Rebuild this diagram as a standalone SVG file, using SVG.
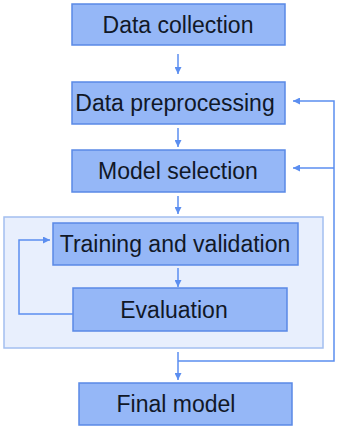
<svg xmlns="http://www.w3.org/2000/svg" width="341" height="431" viewBox="0 0 341 431">
<defs>
<style>
.box{fill:#95b7f7;stroke:#5a89e6;stroke-width:1.5}
.grp{fill:#e8effd;stroke:#a3bff0;stroke-width:1.5}
.lbl{font-family:"Liberation Sans",Arial,sans-serif;font-size:23px;fill:#111827;text-anchor:middle}
.edge{fill:none;stroke:#5b8ef0;stroke-width:1.5}
</style>
<marker id="ah" viewBox="0 0 10 10" refX="10" refY="5" markerWidth="7" markerHeight="7" markerUnits="userSpaceOnUse" orient="auto">
<path d="M0,0 L10,5 L0,10 z" fill="#5b8ef0"/>
</marker>
</defs>
<rect id="container" class="grp" x="4" y="217" width="319" height="131"/>
<g id="n1"><rect class="box" x="72" y="4" width="213" height="41"/><text class="lbl" x="178" y="33">Data collection</text></g>
<g id="n2"><rect class="box" x="72" y="82" width="213" height="42"/><text class="lbl" x="175" y="111">Data preprocessing</text></g>
<g id="n3"><rect class="box" x="72" y="150" width="213" height="42"/><text class="lbl" x="178" y="179">Model selection</text></g>
<g id="n4"><rect class="box" x="53" y="223" width="245" height="42"/><text class="lbl" x="175" y="252">Training and validation</text></g>
<g id="n5"><rect class="box" x="73" y="288" width="214" height="43"/><text class="lbl" x="174" y="318">Evaluation</text></g>
<g id="n6"><rect class="box" x="79" y="383" width="213" height="42"/><text class="lbl" x="176" y="412">Final model</text></g>
<g id="edges">
<path class="edge" marker-end="url(#ah)" d="M178,54 L178,74"/>
<path class="edge" marker-end="url(#ah)" d="M178,128 L178,147"/>
<path class="edge" marker-end="url(#ah)" d="M178,196 L178,214"/>
<path class="edge" marker-end="url(#ah)" d="M178,268 L178,287"/>
<path class="edge" marker-end="url(#ah)" d="M73,314 L19,314 L19,240 L50,240"/>
<path class="edge" marker-end="url(#ah)" d="M178,352 L178,380"/>
<path class="edge" marker-end="url(#ah)" d="M178,361 L334,361 L334,101 L293,101"/>
<path class="edge" marker-end="url(#ah)" d="M334,168 L293,168"/>
</g>
</svg>
